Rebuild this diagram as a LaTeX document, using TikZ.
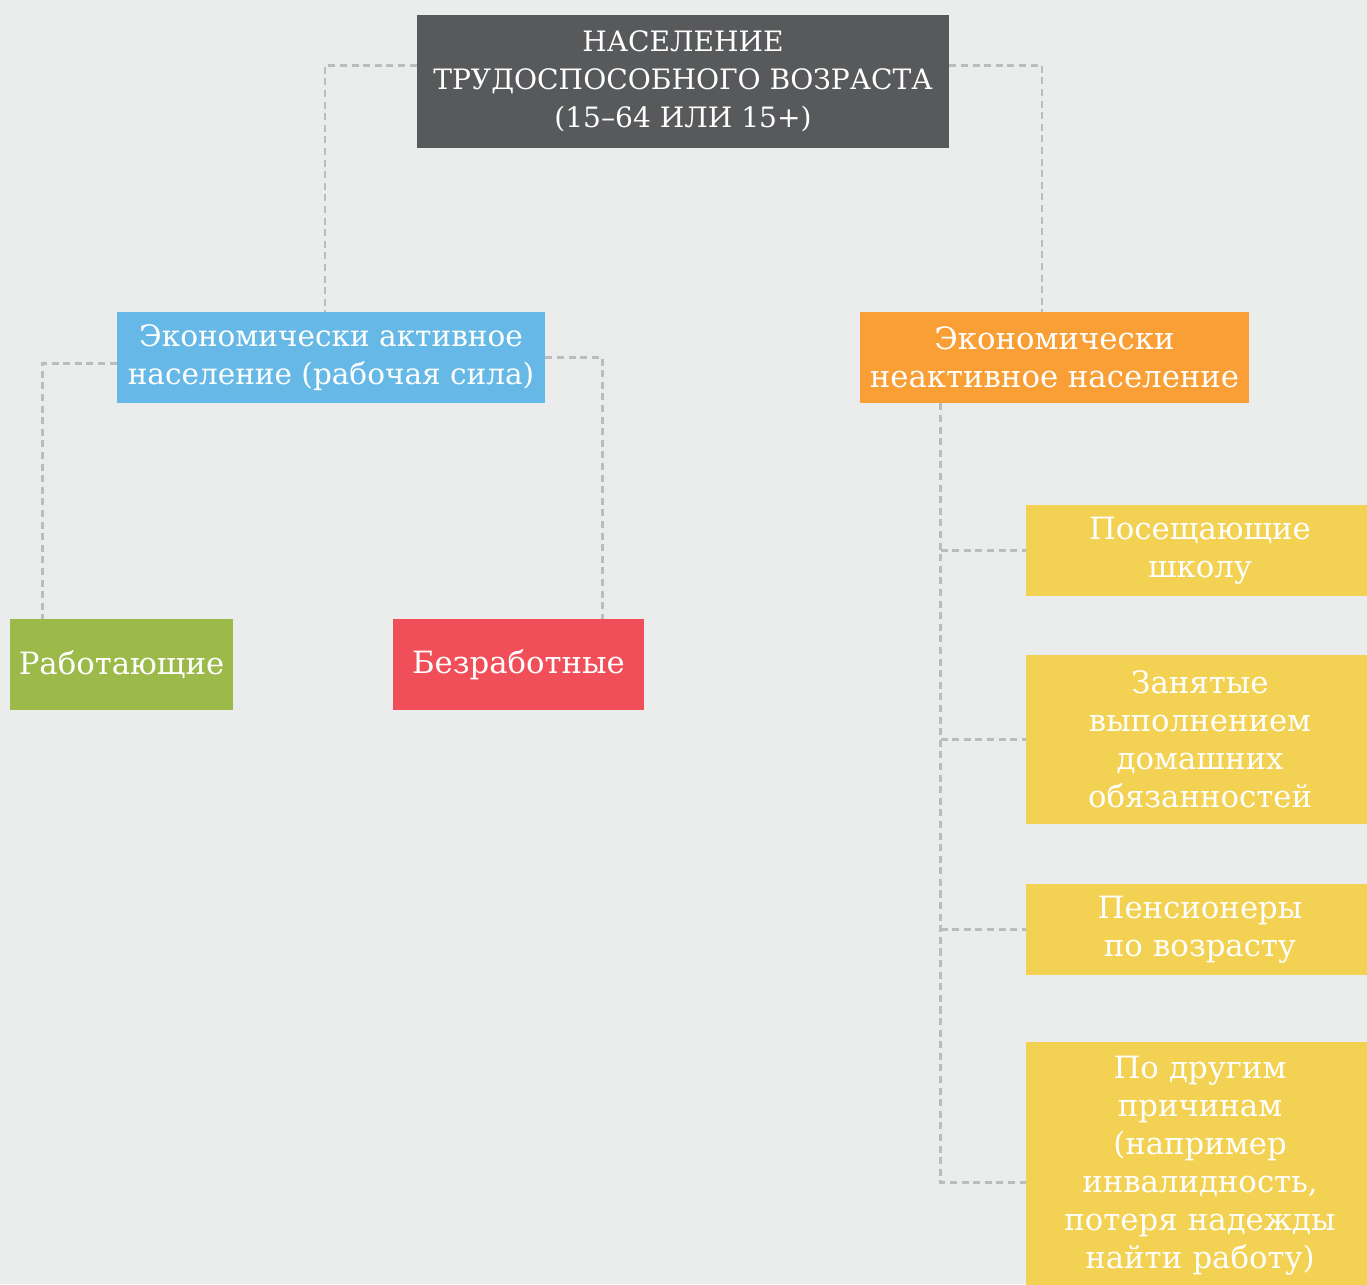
\documentclass[tikz,border=0pt]{standalone}
\usepackage{fontspec}
\setmainfont{DejaVu Serif}
\usepackage{tikz}
\usetikzlibrary{positioning,calc}
\definecolor{bg}{HTML}{EBEDEC}
\definecolor{topgray}{HTML}{58595B}
\definecolor{actblue}{HTML}{66B9E6}
\definecolor{inactorange}{HTML}{F99F35}
\definecolor{workgreen}{HTML}{9BBA4A}
\definecolor{unempred}{HTML}{F04E59}
\definecolor{catyellow}{HTML}{F3D152}
\definecolor{linkgray}{HTML}{BBBCBE}
\tikzset{
    box/.style={
           rectangle,
           inner sep=0pt,
           text=white,
           align=center,
           font=\fontsize{17.5}{21.6}\selectfont
           },
    catbox/.style={
           box,
           fill=catyellow,
           minimum width=6.82cm,
           text width=6.82cm,
           xshift=0.0cm
           },
    link/.style={
           draw=linkgray,
           line width=1.4pt,
           dash pattern=on 4pt off 2.6pt
           }
}

\begin{document}
\begin{tikzpicture}
   \fill[bg] (0,0) rectangle (27.34,-25.68);
   \useasboundingbox (0,0) rectangle (27.34,-25.68);

   \node[box, fill=topgray, minimum width=10.64cm, minimum height=2.66cm,
         font=\fontsize{16}{21.6}\selectfont] (top) at (13.66,-1.63)
        {НАСЕЛЕНИЕ\\ТРУДОСПОСОБНОГО ВОЗРАСТА\\(15--64 ИЛИ 15+)};
   \node[box, fill=actblue, minimum width=8.56cm, minimum height=1.82cm,
         font=\fontsize{16.8}{21.6}\selectfont] (active) at (6.62,-7.15)
        {Экономически активное\\население (рабочая сила)};
   \node[box, fill=inactorange, minimum width=7.78cm, minimum height=1.82cm] (inactive) at (21.09,-7.15)
        {Экономически\\неактивное население};
   \node[box, fill=workgreen, minimum width=4.46cm, minimum height=1.82cm] (working) at (2.43,-13.29)
        {Работающие};
   \node[box, fill=unempred, minimum width=5.02cm, minimum height=1.82cm] (unemployed) at (10.37,-13.29)
        {Безработные};

   % categories of the inactive
   \node[catbox, minimum height=1.82cm] (school) at (23.93,-11.01)
        {\hspace*{0.14cm}Посещающие\\\hspace*{0.14cm}школу};
   \node[catbox, minimum height=3.38cm] (home) at (23.93,-14.79)
        {\hspace*{0.14cm}Занятые\\\hspace*{0.14cm}выполнением\\\hspace*{0.14cm}домашних\\\hspace*{0.14cm}обязанностей};
   \node[catbox, minimum height=1.82cm] (pension) at (23.93,-18.59)
        {\hspace*{0.14cm}Пенсионеры\\\hspace*{0.14cm}по возрасту};
   \node[catbox, minimum height=4.96cm] (other) at (23.93,-23.32)
        {\hspace*{0.14cm}По другим\\\hspace*{0.14cm}причинам\\\hspace*{0.14cm}(например\\\hspace*{0.14cm}инвалидность,\\\hspace*{0.14cm}потеря надежды\\\hspace*{0.14cm}найти работу)};

   \draw[link] ([yshift=-1.02cm]top.north west) -| ([xshift=-0.12cm]active.north);
   \draw[link] ([yshift=-1.02cm]top.north east) -| ([xshift=-0.25cm]inactive.north);
   \draw[link] ([yshift=-1.04cm]active.north west) -| ([xshift=0.66cm]working.north west);
   \draw[link] ([yshift=-0.92cm]active.north east) -| ([xshift=-0.84cm]unemployed.north east);

   \coordinate (trunk) at ([xshift=1.62cm]inactive.south west);
   \draw[link] (trunk) |- ([yshift=-2.82cm]other.north west);
   \foreach \n in {school,home,pension}
      \draw[link] (trunk |- \n.west) -- (\n.west);
\end{tikzpicture}
\end{document}
